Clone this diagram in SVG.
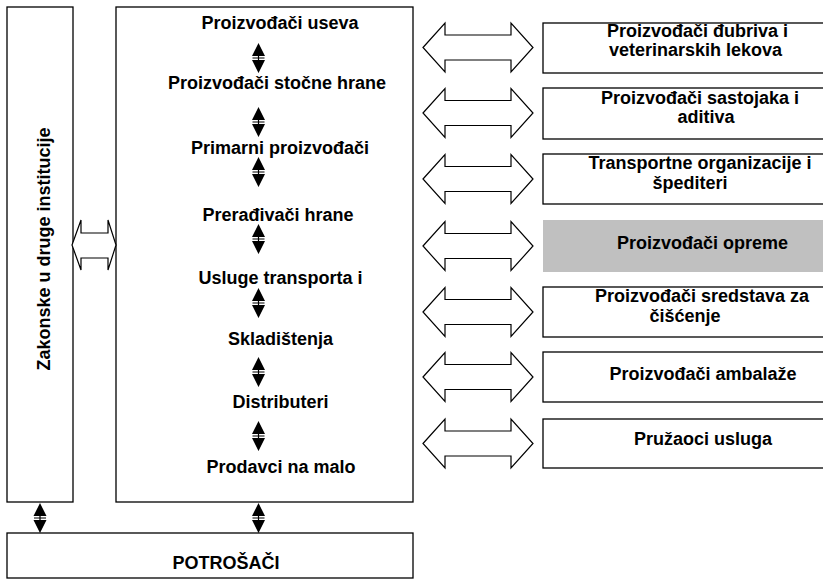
<svg xmlns="http://www.w3.org/2000/svg" xmlns:xlink="http://www.w3.org/1999/xlink" width="823" height="580" viewBox="0 0 823 580">
<style>
.box{fill:#fff;stroke:#000;stroke-width:1.3}
.gray{fill:#c0c0c0;stroke:none}
.t{font-family:"Liberation Sans",Arial,sans-serif;font-weight:bold;font-size:18px;fill:#000;text-anchor:middle}
.blk{fill:#fff;stroke:#000;stroke-width:1.2;stroke-linejoin:miter}
</style>
<defs>
<path id="bigArrow" class="blk" d="M0,0 L22,-24.5 L22,-12.5 L88,-12.5 L88,-24.5 L110,0 L88,24.5 L88,12.5 L22,12.5 L22,24.5 Z"/>
<g id="dbl">
<path d="M0,0 L6.5,13 L-6.5,13 Z M-6.5,17 L6.5,17 L0,30 Z" fill="#000"/>
<path d="M0,13 V17 M-6,15 H6" stroke="#000" stroke-width="1.2" fill="none"/>
</g>
</defs>

<g id="institucije">
<rect class="box" x="7" y="7" width="66" height="495"/>
<text class="t" transform="translate(49.5,249) rotate(-90)" x="0" y="0">Zakonske u druge institucije</text>
</g>

<g id="lanac">
<rect class="box" x="116" y="7" width="297" height="495"/>
<text class="t" x="280" y="29">Proizvođači useva</text>
<text class="t" x="277" y="89">Proizvođači stočne hrane</text>
<text class="t" x="280" y="154">Primarni proizvođači</text>
<text class="t" x="278" y="221">Prerađivači hrane</text>
<text class="t" x="280.5" y="284">Usluge transporta i</text>
<text class="t" x="280.5" y="345">Skladištenja</text>
<text class="t" x="280.5" y="408">Distributeri</text>
<text class="t" x="281" y="473">Prodavci na malo</text>
</g>

<g id="potrosaci">
<rect class="box" x="7" y="533" width="406" height="45"/>
<text class="t" x="226" y="569">POTROŠAČI</text>
</g>

<g id="r1"><rect class="box" x="543" y="23" width="300" height="50"/>
<text class="t" x="697.5" y="37">Proizvođači đubriva i</text>
<text class="t" x="695.5" y="56">veterinarskih lekova</text></g>
<g id="r2"><rect class="box" x="543" y="88" width="300" height="51"/>
<text class="t" x="700" y="104">Proizvođači sastojaka i</text>
<text class="t" x="706" y="123">aditiva</text></g>
<g id="r3"><rect class="box" x="543" y="154" width="300" height="50"/>
<text class="t" x="700" y="169">Transportne organizacije i</text>
<text class="t" x="690" y="189">špediteri</text></g>
<g id="r4"><rect class="gray" x="543" y="220" width="300" height="52"/>
<text class="t" x="702.5" y="249">Proizvođači opreme</text></g>
<g id="r5"><rect class="box" x="543" y="287" width="300" height="50"/>
<text class="t" x="702" y="302">Proizvođači sredstava za</text>
<text class="t" x="685" y="322">čišćenje</text></g>
<g id="r6"><rect class="box" x="543" y="352" width="300" height="50"/>
<text class="t" x="703" y="380">Proizvođači ambalaže</text></g>
<g id="r7"><rect class="box" x="543" y="419" width="300" height="49"/>
<text class="t" x="703" y="445">Pružaoci usluga</text></g>

<g id="connectors">
<path class="blk" d="M72,245 L81,220 L81,233 L108,233 L108,220 L116,245 L108,270 L108,258 L81,258 L81,270 Z"/>
<use xlink:href="#bigArrow" transform="translate(423,47.5)"/>
<use xlink:href="#bigArrow" transform="translate(423,113)"/>
<use xlink:href="#bigArrow" transform="translate(423,179)"/>
<use xlink:href="#bigArrow" transform="translate(423,246)"/>
<use xlink:href="#bigArrow" transform="translate(423,312)"/>
<use xlink:href="#bigArrow" transform="translate(423,377)"/>
<use xlink:href="#bigArrow" transform="translate(423,443.5)"/>
<use xlink:href="#dbl" transform="translate(258.5,43)"/>
<use xlink:href="#dbl" transform="translate(258.5,107)"/>
<use xlink:href="#dbl" transform="translate(258.5,157)"/>
<use xlink:href="#dbl" transform="translate(258.5,224)"/>
<use xlink:href="#dbl" transform="translate(258.5,288)"/>
<use xlink:href="#dbl" transform="translate(258.5,357)"/>
<use xlink:href="#dbl" transform="translate(258.5,421)"/>
<use xlink:href="#dbl" transform="translate(40,503)"/>
<use xlink:href="#dbl" transform="translate(258.5,503)"/>
</g>
</svg>
